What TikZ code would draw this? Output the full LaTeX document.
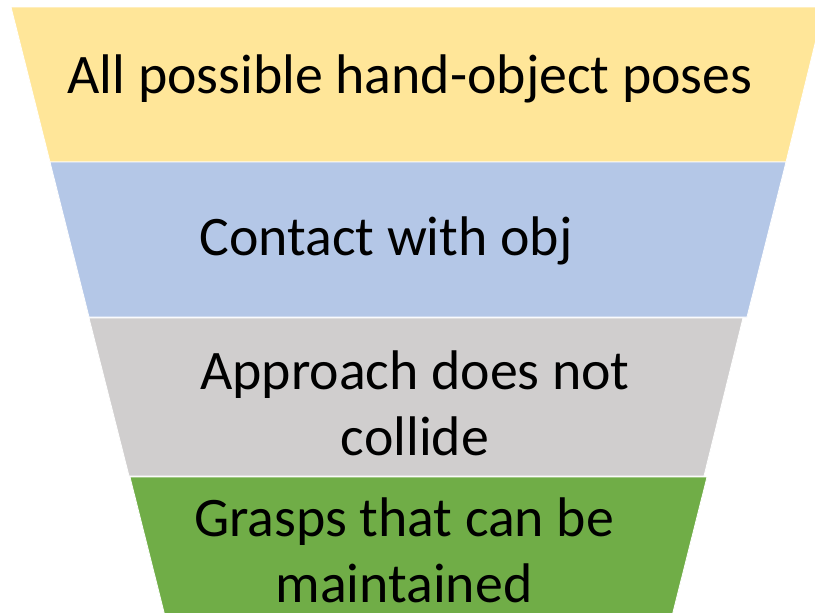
\documentclass[tikz,border=0pt]{standalone}
\usepackage{fontspec}
\setmainfont{Carlito}
\definecolor{bandyellow}{HTML}{FFE699}
\definecolor{bandblue}{HTML}{B4C7E7}
\definecolor{bandgray}{HTML}{D0CECE}
\definecolor{bandgreen}{HTML}{70AD47}
\begin{document}
\begin{tikzpicture}[x=1pt,y=1pt,
  band/.style={draw=white,line width=0.8pt},
  label/.style={font=\fontsize{55.8}{66}\selectfont,text=black,align=center,anchor=base,inner sep=0pt}]
\useasboundingbox (0,0) rectangle (815,-613);
\clip (0,0) rectangle (815,-613);
\fill[white] (0,0) rectangle (815,-613);
\filldraw[band,fill=bandyellow] (11,-7) -- (824,-7) -- (786,-162) -- (50,-162) -- cycle;
\filldraw[band,fill=bandblue] (50,-162) -- (786,-162) -- (747,-317) -- (89,-317) -- cycle;
\filldraw[band,fill=bandgray] (89,-318) -- (743,-318) -- (704,-476) -- (129,-476) -- cycle;
\filldraw[band,fill=bandgreen] (130,-477) -- (707,-477) -- (666,-640) -- (171,-640) -- cycle;
\node[label] (t1) at (410,-93) {All possible hand-object poses};
\node[label] (t2) at (386,-255) {Contact with obj};
\node[label] (t3) at (415,-455) {Approach does not\\collide};
\node[label] (t4) at (404,-602) {Grasps that can be\\maintained};
\end{tikzpicture}
\end{document}
